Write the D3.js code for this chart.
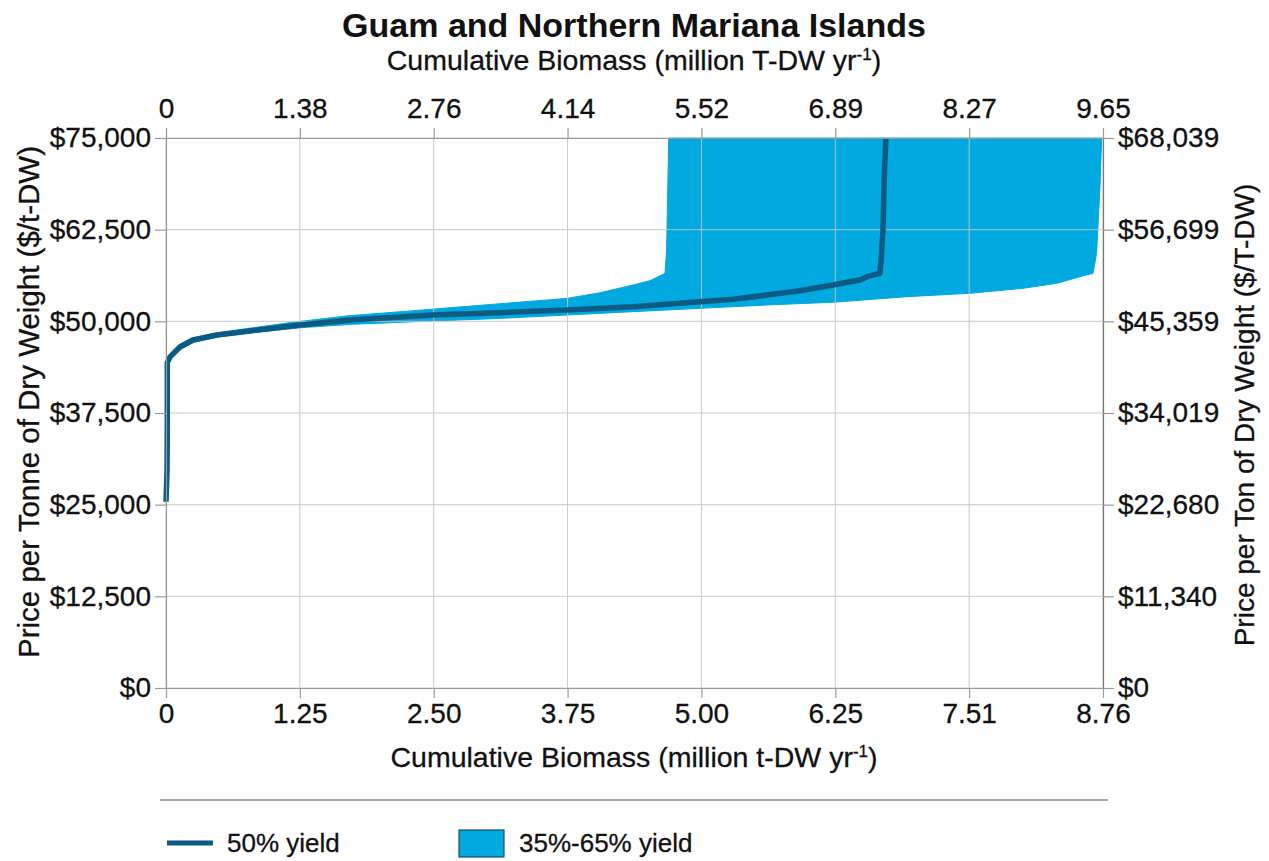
<!DOCTYPE html>
<html>
<head>
<meta charset="utf-8">
<script src="https://cdn.jsdelivr.net/npm/d3@7"></script>
<style>
  html, body { margin: 0; padding: 0; background: #fff; }
  svg { display: block; }
  text { font-family: "Liberation Sans", Arial, sans-serif; fill: #111; }
</style>
</head>
<body>
<svg id="chart" width="1269" height="861"></svg>
<script>
// ---------------- data ----------------
const title = "Guam and Northern Mariana Islands";
const xBottomLabels = ["0", "1.25", "2.50", "3.75", "5.00", "6.25", "7.51", "8.76"];
const xTopLabels = ["0", "1.38", "2.76", "4.14", "5.52", "6.89", "8.27", "9.65"];
const yLeftLabels = ["$0", "$12,500", "$25,000", "$37,500", "$50,000", "$62,500", "$75,000"];
const yRightLabels = ["$0", "$11,340", "$22,680", "$34,019", "$45,359", "$56,699", "$68,039"];
const xMaxTonne = 8.76;
const yMaxTonne = 75000;

// 50% yield: cumulative biomass (million t-DW/yr), price ($/t-DW)
const yield50Biomass = [0.00, 0.01, 0.012, 0.012, 0.037, 0.131, 0.252, 0.477, 0.785, 1.253, 1.720, 2.496, 3.122, 3.749, 4.366, 4.992, 5.300, 5.619, 5.927, 6.236, 6.395, 6.488, 6.554, 6.675, 6.690, 6.703, 6.717, 6.731];
const yield50Price   = [25400, 29730, 36000, 44320, 45140, 46500, 47450, 48140, 48680, 49500, 50180, 50860, 51180, 51550, 52000, 52680, 53000, 53590, 54180, 54950, 55400, 55640, 56090, 56560, 59300, 62450, 70700, 75000];

// 35% yield (left edge of band)
const yield35Biomass = [0.00, 0.008, 0.010, 0.030, 0.120, 0.240, 0.460, 0.750, 1.200, 1.700, 2.400, 3.122, 3.749, 4.057, 4.366, 4.525, 4.665, 4.680, 4.700];
const yield35Price   = [25400, 30000, 44500, 45400, 46800, 47700, 48400, 49000, 49900, 50750, 51550, 52400, 53130, 53900, 54950, 55540, 56540, 59700, 75000];

// 65% yield (right edge of band)
const yield65Biomass = [0.00, 0.015, 0.015, 0.040, 0.140, 0.270, 0.500, 0.800, 1.280, 1.750, 2.500, 3.122, 3.749, 4.366, 4.992, 5.619, 6.236, 6.925, 7.516, 8.012, 8.327, 8.545, 8.667, 8.700, 8.732, 8.748];
const yield65Price   = [25400, 30000, 44200, 45000, 46300, 47200, 47900, 48450, 49150, 49600, 50050, 50400, 50860, 51320, 51770, 52230, 52600, 53360, 53820, 54500, 55180, 56090, 56540, 59270, 68360, 75000];

const legendLabels = ["50% yield", "35%-65% yield"];

// ---------------- layout ----------------
const svg = d3.select("#chart");
const L = 166, R = 1103, T = 138, B = 688;
const lineColor = "#0b5b83";
const bandColor = "#00a9e0";
const gridColor = "#c4c4c4";
const axisColor = "#9a9a9a";
const tickFont = 28;

const x = d3.scaleLinear().domain([0, xMaxTonne]).range([L, R]);
const y = d3.scaleLinear().domain([0, yMaxTonne]).range([B, T]);

const xTickVals = d3.range(xBottomLabels.length).map(i => i * xMaxTonne / (xBottomLabels.length - 1));
const yTickVals = d3.range(yLeftLabels.length).map(i => i * yMaxTonne / (yLeftLabels.length - 1));

// band polygon (35% curve up, 65% curve down)
const p35 = yield35Biomass.map((b, i) => [b, yield35Price[i]]);
const p65 = yield65Biomass.map((b, i) => [b, yield65Price[i]]);
const bandPts = p35.concat(p65.slice().reverse());
const lineGen = d3.line().x(d => x(d[0])).y(d => y(d[1]));
svg.append("path")
  .attr("d", lineGen(bandPts) + "Z")
  .attr("fill", bandColor)
  .attr("stroke", bandColor)
  .attr("stroke-width", 1);

// gridlines
const grid = svg.append("g").attr("stroke", gridColor).attr("stroke-width", 1).attr("opacity", 0.9);
xTickVals.forEach(v => {
  grid.append("line").attr("x1", x(v)).attr("x2", x(v)).attr("y1", T).attr("y2", B);
});
yTickVals.forEach(v => {
  grid.append("line").attr("x1", L).attr("x2", R).attr("y1", y(v)).attr("y2", y(v));
});

// 50% line
const p50 = yield50Biomass.map((b, i) => [b, yield50Price[i]]);
svg.append("path")
  .attr("d", lineGen(p50))
  .attr("fill", "none")
  .attr("stroke", lineColor)
  .attr("stroke-width", 5.5)
  .attr("stroke-linejoin", "round")
  .attr("stroke-linecap", "butt");

// axes
function styleAxis(g, size) {
  g.select(".domain").attr("stroke", axisColor).attr("stroke-width", 1.2);
  g.selectAll(".tick line").attr("stroke", axisColor).attr("stroke-width", 1.2);
  g.selectAll(".tick text").style("font-family", "'Liberation Sans', Arial, sans-serif")
    .style("font-size", size + "px").attr("fill", "#111")
    .attr("stroke", "#111").attr("stroke-width", 0.3);
}

const axB = d3.axisBottom(x).tickValues(xTickVals).tickFormat((d, i) => xBottomLabels[i])
  .tickSizeInner(10).tickSizeOuter(0).tickPadding(5);
const gB = svg.append("g").attr("transform", `translate(0,${B})`).call(axB);
styleAxis(gB, tickFont);

const axT = d3.axisTop(x).tickValues(xTickVals).tickFormat((d, i) => xTopLabels[i])
  .tickSizeInner(10).tickSizeOuter(0).tickPadding(10);
const gT = svg.append("g").attr("transform", `translate(0,${T})`).call(axT);
styleAxis(gT, tickFont);

const axL = d3.axisLeft(y).tickValues(yTickVals).tickFormat((d, i) => yLeftLabels[i])
  .tickSizeInner(11).tickSizeOuter(0).tickPadding(4);
const gL = svg.append("g").attr("transform", `translate(${L},0)`).call(axL);
styleAxis(gL, tickFont);

const axR = d3.axisRight(y).tickValues(yTickVals).tickFormat((d, i) => yRightLabels[i])
  .tickSizeInner(11).tickSizeOuter(0).tickPadding(4);
const gR = svg.append("g").attr("transform", `translate(${R},0)`).call(axR);
styleAxis(gR, tickFont);
gR.select(".domain").attr("stroke", "#777");

// titles
svg.append("text").attr("x", 634).attr("y", 37).attr("text-anchor", "middle")
  .style("font-size", "34px").style("font-weight", "bold").text(title);

function biomassTitle(yPos, unit) {
  const t = svg.append("text").attr("x", 634).attr("y", yPos).attr("text-anchor", "middle")
    .style("font-size", "28.5px").attr("stroke", "#111").attr("stroke-width", 0.3);
  t.append("tspan").text(`Cumulative Biomass (million ${unit} yr`);
  t.append("tspan").attr("dy", -10).style("font-size", "17px").text("-1");
  t.append("tspan").attr("dy", 10).text(")");
}
biomassTitle(70, "T-DW");
biomassTitle(767, "t-DW");

svg.append("text").attr("transform", `translate(39,402) rotate(-90)`).attr("text-anchor", "middle")
  .style("font-size", "29.5px").attr("stroke", "#111").attr("stroke-width", 0.3)
  .text("Price per Tonne of Dry Weight ($/t-DW)");
svg.append("text").attr("transform", `translate(1254,415) rotate(-90)`).attr("text-anchor", "middle")
  .style("font-size", "28px").attr("stroke", "#111").attr("stroke-width", 0.3)
  .text("Price per Ton of Dry Weight ($/T-DW)");

// legend
svg.append("line").attr("x1", 160).attr("x2", 1108).attr("y1", 800).attr("y2", 800)
  .attr("stroke", "#8a8a8a").attr("stroke-width", 1.5);
svg.append("line").attr("x1", 167).attr("x2", 213).attr("y1", 843).attr("y2", 843)
  .attr("stroke", lineColor).attr("stroke-width", 5);
svg.append("text").attr("x", 227).attr("y", 852).style("font-size", "26px")
  .attr("stroke", "#111").attr("stroke-width", 0.3).text(legendLabels[0]);
svg.append("rect").attr("x", 459).attr("y", 830).attr("width", 45).attr("height", 27)
  .attr("fill", bandColor).attr("stroke", "#1d4f6a").attr("stroke-width", 1.2);
svg.append("text").attr("x", 519).attr("y", 852).style("font-size", "26px")
  .attr("stroke", "#111").attr("stroke-width", 0.3).text(legendLabels[1]);
</script>
</body>
</html>
